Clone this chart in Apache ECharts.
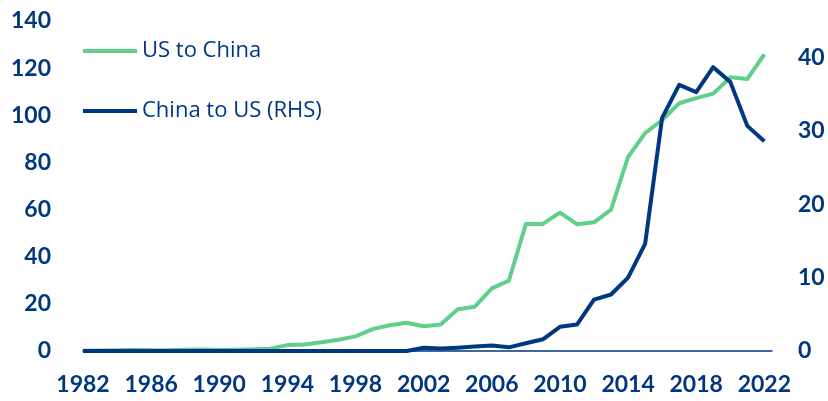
<!DOCTYPE html>
<html>
<head>
<meta charset="utf-8">
<script src="https://cdn.jsdelivr.net/npm/echarts@6/dist/echarts.min.js"></script>
<style>html,body{margin:0;padding:0;background:#fff}#c{width:828px;height:401px}</style>
</head>
<body>
<div id="c"></div>
<script>
const years = [1982,1983,1984,1985,1986,1987,1988,1989,1990,1991,1992,1993,1994,1995,1996,1997,1998,1999,2000,2001,2002,2003,2004,2005,2006,2007,2008,2009,2010,2011,2012,2013,2014,2015,2016,2017,2018,2019,2020,2021,2022];
const usToChina = [0.1,0.2,0.3,0.4,0.3,0.3,0.5,0.6,0.4,0.5,0.7,1.0,2.5,2.8,3.7,4.8,6.2,9.3,10.9,12.0,10.5,11.2,17.7,18.8,26.6,29.8,53.9,53.9,58.7,53.8,54.6,60.0,82.3,92.4,98.0,105.1,107.3,109.2,116.1,115.4,125.8];
const chinaToUS = [0,0,0,0,0,0,0,0,0,0,0,0,0,0,0,0,0,0,0,0,0.45,0.35,0.45,0.6,0.75,0.5,1.05,1.6,3.3,3.6,7.0,7.7,10.0,14.6,31.8,36.3,35.3,38.7,36.7,30.7,28.6];
const xTickLabels = [1982,1986,1990,1994,1998,2002,2006,2010,2014,2018,2022];
const leftTicks = [0,20,40,60,80,100,120,140];
const rightTicks = [0,10,20,30,40];

const navy = '#003781';
const green = '#61cf8b';
const font = 'Lato, "Open Sans", sans-serif';

const chart = echarts.init(document.getElementById('c'), null, {renderer: 'canvas'});
chart.setOption({
  animation: false,
  backgroundColor: '#fff',
  grid: {left: 83, right: 56, top: 21, bottom: 50, containLabel: false},
  legend: {
    orient: 'vertical', left: 83, top: 40, itemGap: 38, padding: 0,
    itemWidth: 54, itemHeight: 4, icon: 'rect',
    textStyle: {color: navy, fontSize: 22, fontWeight: 500, fontFamily: '"Open Sans", Lato, sans-serif', lineHeight: 22},
    data: ['US to China', 'China to US (RHS)']
  },
  xAxis: {
    type: 'value', min: 1982, max: 2022.45,
    axisLine: {show: true, lineStyle: {color: navy, width: 1.5}},
    axisTick: {show: false}, splitLine: {show: false},
    axisLabel: {customValues: xTickLabels, color: navy, fontSize: 23, fontWeight: 'bold', fontFamily: font, margin: 22, formatter: v => String(v)}
  },
  yAxis: [{
    type: 'value', min: 0, max: 140, interval: 20,
    axisLine: {show: false}, axisTick: {show: false}, splitLine: {show: false},
    axisLabel: {customValues: leftTicks, color: navy, fontSize: 23, fontWeight: 'bold', fontFamily: font, margin: 32}
  }, {
    type: 'value', min: 0, max: 45, position: 'right',
    axisLine: {show: false}, axisTick: {show: false}, splitLine: {show: false},
    axisLabel: {customValues: rightTicks, color: navy, fontSize: 23, fontWeight: 'bold', fontFamily: font, margin: 26}
  }],
  series: [{
    name: 'US to China', type: 'line', yAxisIndex: 0, symbol: 'none',
    lineStyle: {color: green, width: 4, join: 'round'}, itemStyle: {color: green},
    data: years.map((y, i) => [y, usToChina[i]])
  }, {
    name: 'China to US (RHS)', type: 'line', yAxisIndex: 1, symbol: 'none',
    lineStyle: {color: navy, width: 4, join: 'round'}, itemStyle: {color: navy},
    data: years.map((y, i) => [y, chinaToUS[i]])
  }]
});
</script>
</body>
</html>
